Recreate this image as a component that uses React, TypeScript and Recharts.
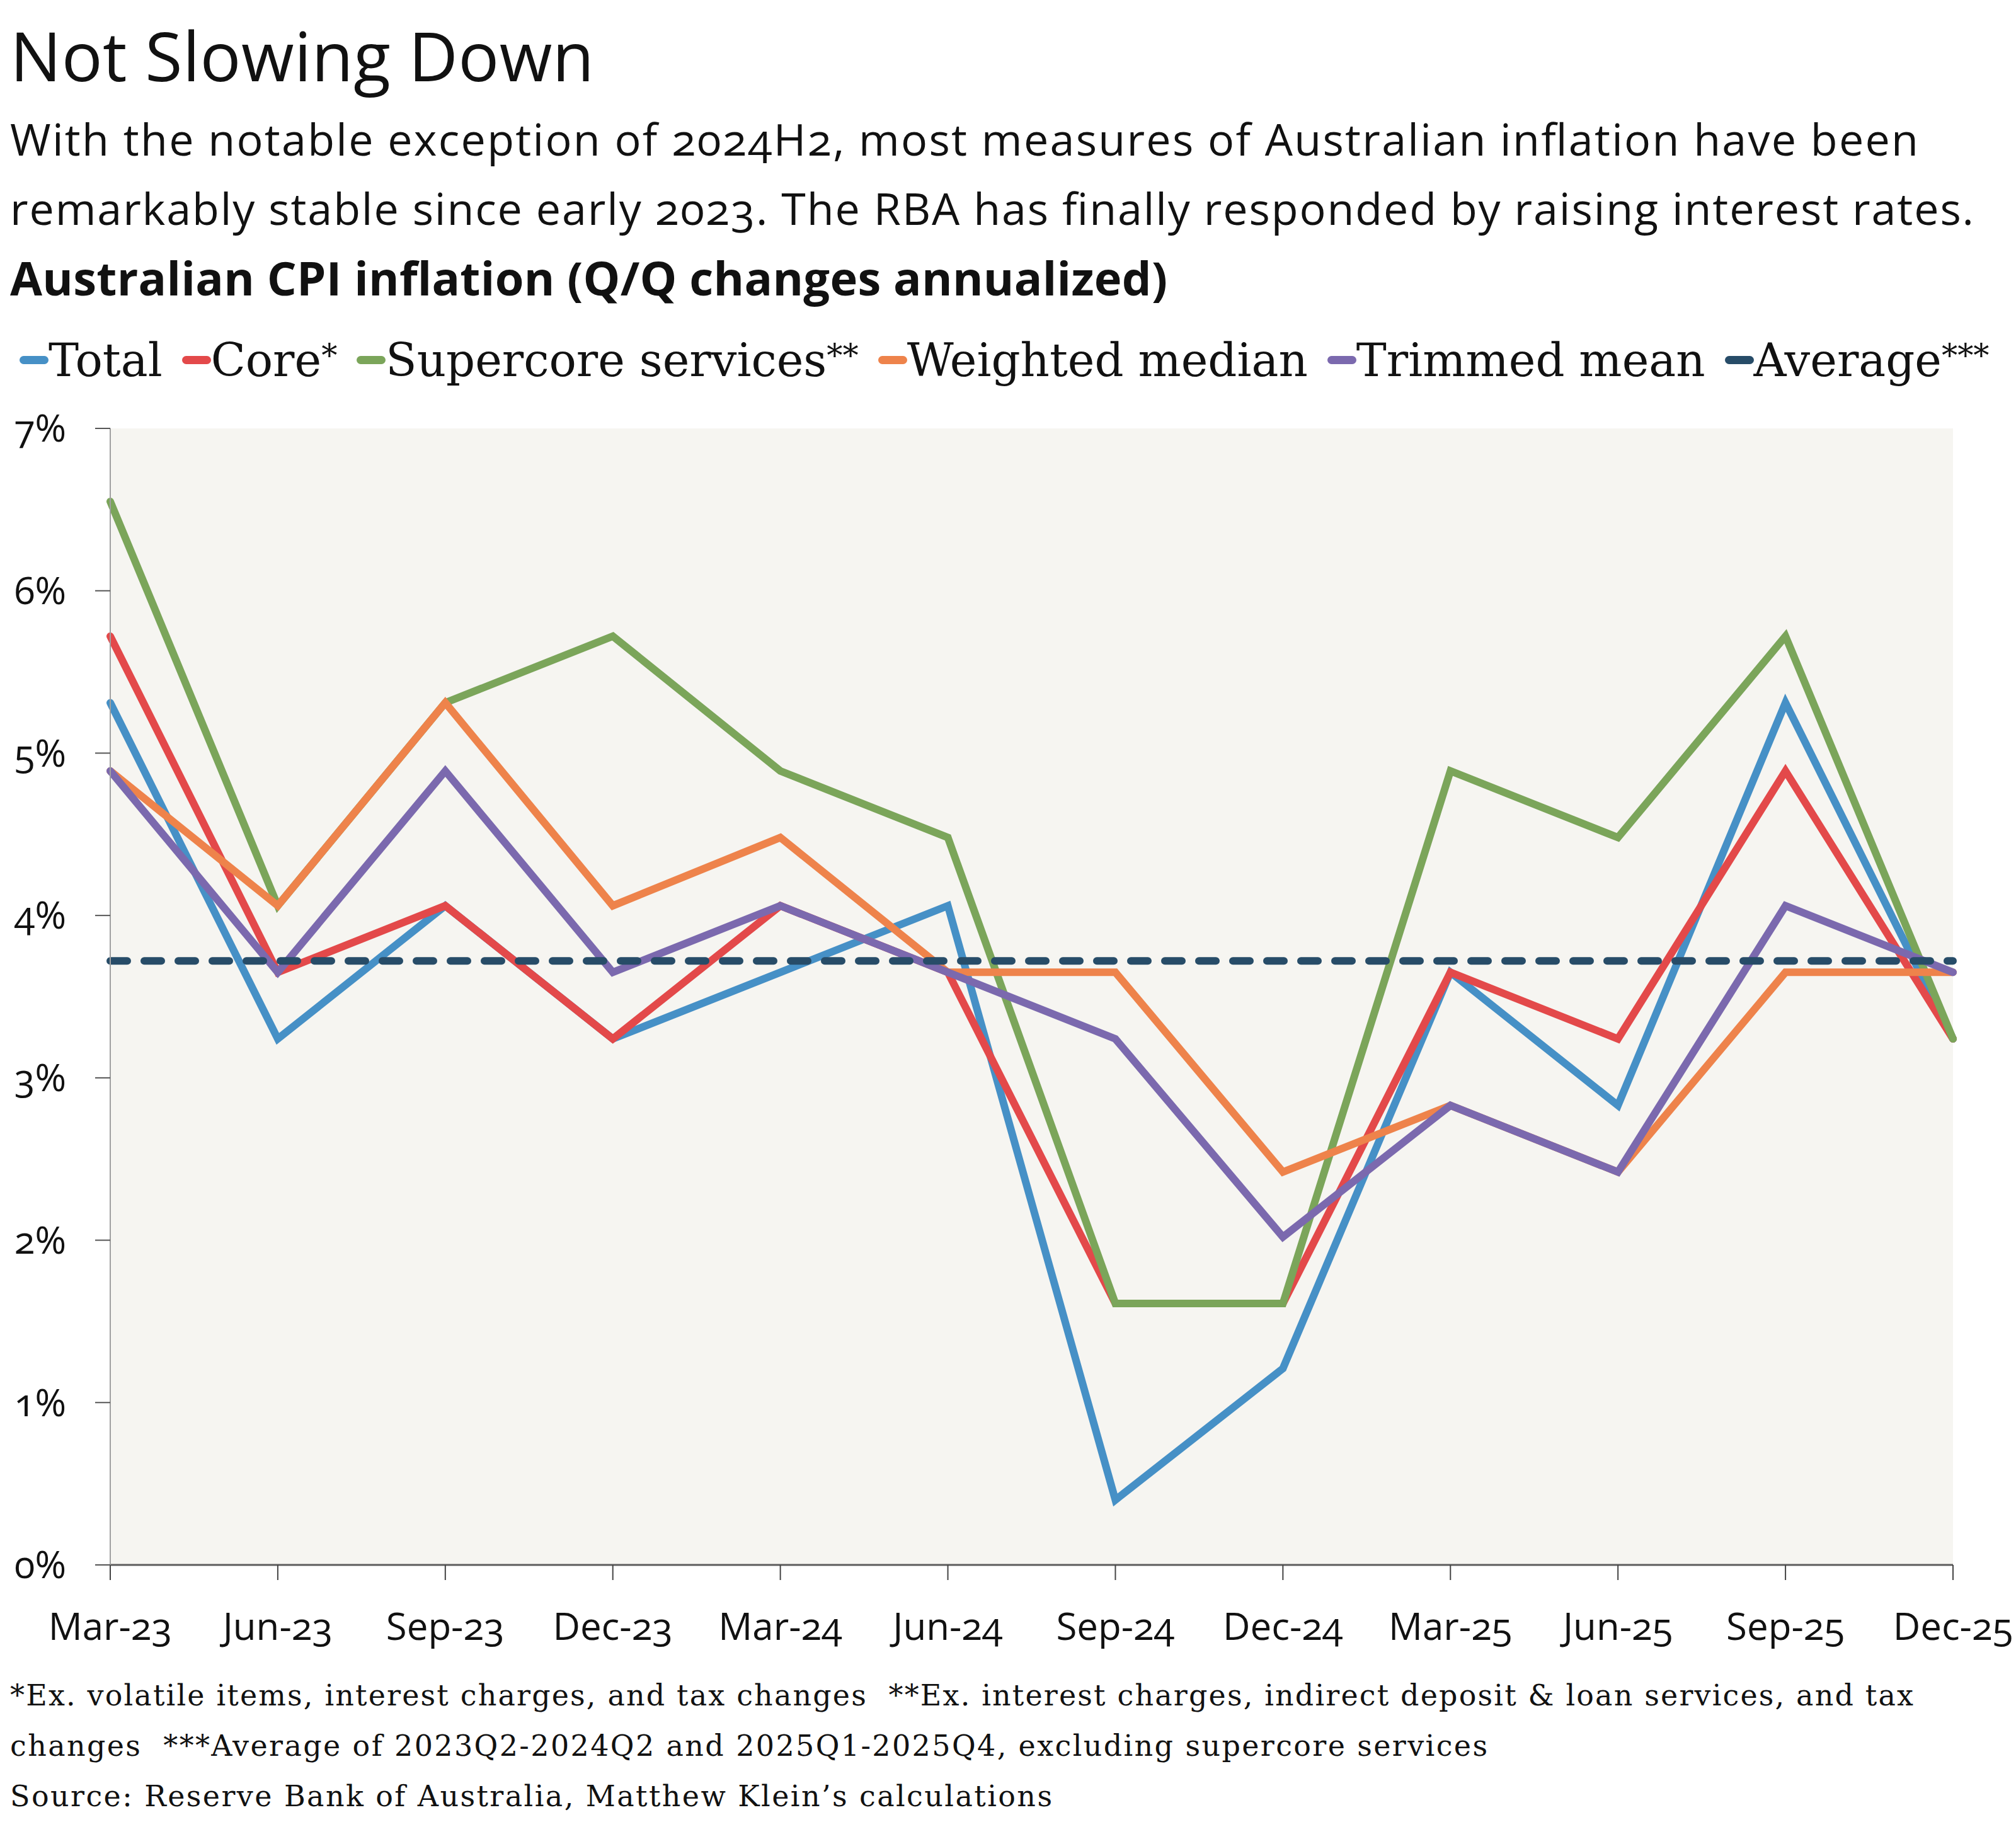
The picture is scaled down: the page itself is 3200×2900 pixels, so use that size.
import React from 'react'
import { LineChart, Line, XAxis, YAxis, CartesianGrid, ReferenceLine } from 'recharts'

// quarterly CPI, Q/Q changes annualized (%)
const QUARTERS = ['Mar-23', 'Jun-23', 'Sep-23', 'Dec-23', 'Mar-24', 'Jun-24', 'Sep-24', 'Dec-24', 'Mar-25', 'Jun-25', 'Sep-25', 'Dec-25']
const TOTAL = [5.31, 3.24, 4.06, 3.24, 3.65, 4.06, 0.4, 1.21, 3.65, 2.83, 5.31, 3.24]
const CORE = [5.72, 3.65, 4.06, 3.24, 4.06, 3.65, 1.61, 1.61, 3.65, 3.24, 4.89, 3.24]
const SUPERCORE = [6.55, 4.06, 5.31, 5.72, 4.89, 4.48, 1.61, 1.61, 4.89, 4.48, 5.72, 3.24]
const WEIGHTED_MEDIAN = [4.89, 4.06, 5.31, 4.06, 4.48, 3.65, 3.65, 2.42, 2.83, 2.42, 3.65, 3.65]
const TRIMMED_MEAN = [4.89, 3.65, 4.89, 3.65, 4.06, 3.65, 3.24, 2.02, 2.83, 2.42, 4.06, 3.65]
const AVERAGE = 3.72
const Y_TICKS = [0, 1, 2, 3, 4, 5, 6, 7]

const SERIES = [
  { key: 'total', name: 'Total', color: '#4690C6', values: TOTAL },
  { key: 'core', name: 'Core*', color: '#E3494A', values: CORE },
  { key: 'supercore', name: 'Supercore services**', color: '#7BA55A', values: SUPERCORE },
  { key: 'median', name: 'Weighted median', color: '#EE834B', values: WEIGHTED_MEDIAN },
  { key: 'trimmed', name: 'Trimmed mean', color: '#7B69AE', values: TRIMMED_MEAN },
]
const AVERAGE_NAME = 'Average***'
const AVERAGE_COLOR = '#274C68'

const data = QUARTERS.map((q, i) => {
  const row: { [k: string]: string | number } = { quarter: q }
  SERIES.forEach(s => { row[s.key] = s.values[i] })
  return row
})

const SANS = '"Open Sans", "Noto Sans", sans-serif'
const SERIF = '"DejaVu Serif", serif'

const tickStyle = { fill: '#111', fontSize: 60, fontFamily: SANS }

const Legend = () => {
  const items = [...SERIES.map(s => ({ name: s.name, color: s.color })), { name: AVERAGE_NAME, color: AVERAGE_COLOR }]
  return (
    <div style={{ position: 'absolute', left: 31, top: 529, fontFamily: SERIF, fontSize: 72, lineHeight: '72px', whiteSpace: 'nowrap', color: '#111' }}>
      {items.map((it, i) => {
        const base = it.name.replace(/\*+$/, '')
        const stars = it.name.slice(base.length)
        return (
          <span key={it.name} style={{ marginLeft: i === 0 ? 0 : 31 }}>
            <span style={{ display: 'inline-block', width: 46, height: 13, borderRadius: 7, background: it.color, verticalAlign: '19px' }} />
            {base}
            {stars && <span style={{ fontSize: '0.7em', verticalAlign: '0.3em' }}>{stars}</span>}
          </span>
        )
      })}
    </div>
  )
}

const App = () => {
  return (
    <div style={{ position: 'absolute', left: 0, top: 0, width: 3200, height: 2900, background: '#fff', fontVariantNumeric: 'oldstyle-nums' }}>
      <svg width={3200} height={2900} style={{ position: 'absolute', left: 0, top: 0 }}>
        <text x={16} y={129} fontFamily={SANS} fontSize={108} fill="#111" textLength={927} lengthAdjust="spacing">Not Slowing Down</text>
        <text x={16} y={247} fontFamily={SANS} fontSize={70} fill="#111" textLength={3029} lengthAdjust="spacing">
          With the notable exception of 2024H2, most measures of Australian inflation have been
        </text>
        <text x={16} y={357} fontFamily={SANS} fontSize={70} fill="#111" textLength={3117} lengthAdjust="spacing">
          remarkably stable since early 2023. The RBA has finally responded by raising interest rates.
        </text>
        <text x={16} y={469} fontFamily={SANS} fontSize={74} fontWeight={700} fill="#111" textLength={1837} lengthAdjust="spacing">
          Australian CPI inflation (Q/Q changes annualized)
        </text>
        <text x={16} y={2707} fontFamily={SERIF} fontSize={46} fill="#111" style={{ whiteSpace: 'pre' }} textLength={3021} lengthAdjust="spacing">
          {'*Ex. volatile items, interest charges, and tax changes  **Ex. interest charges, indirect deposit & loan services, and tax'}
        </text>
        <text x={16} y={2787} fontFamily={SERIF} fontSize={46} fill="#111" style={{ whiteSpace: 'pre' }} textLength={2345} lengthAdjust="spacing">
          {'changes  ***Average of 2023Q2-2024Q2 and 2025Q1-2025Q4, excluding supercore services'}
        </text>
        <text x={16} y={2867} fontFamily={SERIF} fontSize={46} fill="#111" textLength={1654} lengthAdjust="spacing">
          Source: Reserve Bank of Australia, Matthew Klein’s calculations
        </text>
      </svg>
      <Legend />
      <div style={{ position: 'absolute', left: 0, top: 610 }}>
        <LineChart width={3200} height={2030} data={data} margin={{ top: 70, right: 100, bottom: 0, left: 0 }}>
          <CartesianGrid horizontal={false} vertical={false} fill="#F6F5F1" />
          <XAxis
            dataKey="quarter"
            interval={0}
            tickSize={24}
            tickMargin={52}
            height={156}
            tick={tickStyle}
            axisLine={{ stroke: '#5c5c5c', strokeWidth: 3 }}
            tickLine={{ stroke: '#444', strokeWidth: 2 }}
          />
          <YAxis
            domain={[0, 7]}
            ticks={Y_TICKS}
            width={175}
            tickSize={24}
            tickMargin={46}
            tick={tickStyle}
            tickFormatter={(v: number) => `${v}%`}
            axisLine={{ stroke: '#a0a0a0', strokeWidth: 2 }}
            tickLine={{ stroke: '#555', strokeWidth: 2 }}
          />
          {SERIES.map(s => (
            <Line
              key={s.key}
              type="linear"
              dataKey={s.key}
              name={s.name}
              stroke={s.color}
              strokeWidth={12}
              strokeLinecap="round"
              strokeLinejoin="miter"
              dot={false}
              activeDot={false}
              isAnimationActive={false}
            />
          ))}
          <ReferenceLine y={AVERAGE} stroke={AVERAGE_COLOR} strokeWidth={12} strokeDasharray="27 27" strokeLinecap="round" />
        </LineChart>
      </div>
    </div>
  )
}

export default App
